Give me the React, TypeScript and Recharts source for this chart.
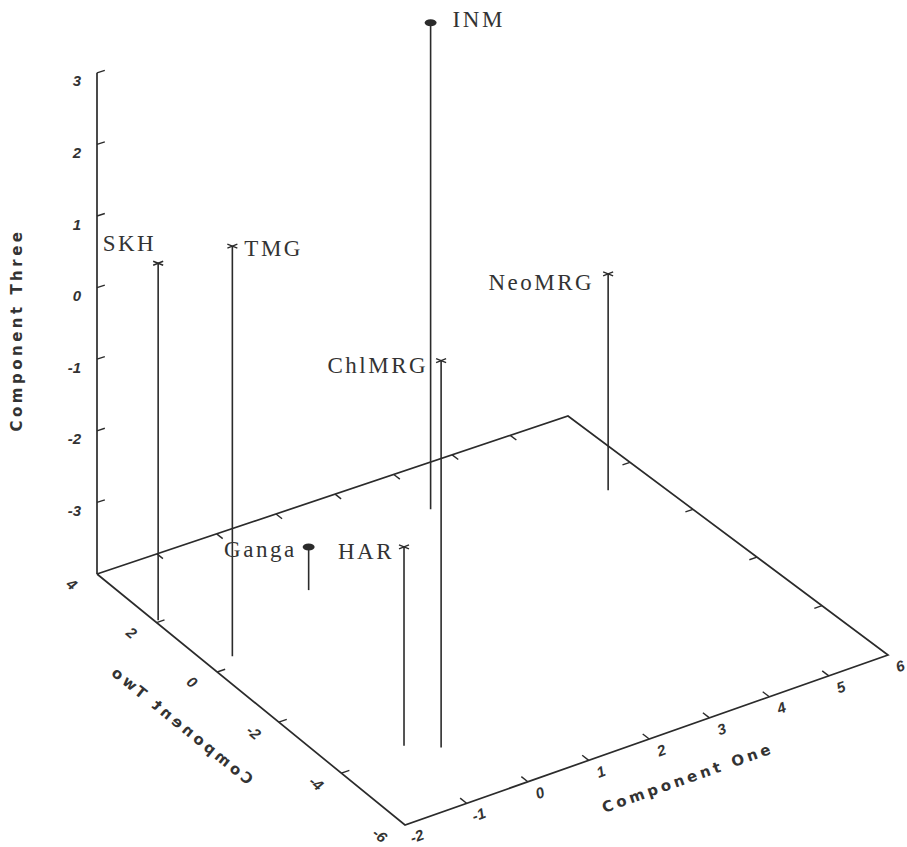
import React from "react";
import { ComposedChart, XAxis, YAxis, Scatter, ReferenceLine } from "recharts";

// principal component scores per sample
const names = ["INM", "SKH", "TMG", "NeoMRG", "ChlMRG", "Ganga", "HAR"];
const componentOne = [2.9, -1.95, -1.6, 5.3, -0.5, 0.25, -0.9];
const componentTwo = [2.6, 2.05, 0.3, 1.4, -4.25, 1.45, -3.85];
const componentThree = [2.85, 0.95, 1.65, -0.95, 1.25, -3.4, -1.3];

// axis ticks
const oneTicks = [-2, -1, 0, 1, 2, 3, 4, 5, 6];
const twoTicks = [4, 2, 0, -2, -4, -6];
const threeTicks = [-4, -3, -2, -1, 0, 1, 2, 3];

const oneRange = [-2, 6];
const twoRange = [-6, 4];
const threeRange = [-4, 3];

const W = 907;
const H = 847;
const INK = "#2b2b2b";

// floor corners in view space: (one min, two max), (one max, two max), (one max, two min), (one min, two min)
const floorQuad = [
  [97, 574],
  [568, 416],
  [888, 655],
  [405, 825],
];
const zUnit = 71.6;

// square -> quad perspective mapping for the floor plane
function squareToQuad(q: number[][]) {
  const [[x0, y0], [x1, y1], [x2, y2], [x3, y3]] = q;
  const dx1 = x1 - x2, dx2 = x3 - x2, dx3 = x0 - x1 + x2 - x3;
  const dy1 = y1 - y2, dy2 = y3 - y2, dy3 = y0 - y1 + y2 - y3;
  const den = dx1 * dy2 - dx2 * dy1;
  const g = (dx3 * dy2 - dx2 * dy3) / den;
  const h = (dx1 * dy3 - dx3 * dy1) / den;
  return {
    a: x1 - x0 + g * x1, b: x3 - x0 + h * x3, c: x0,
    d: y1 - y0 + g * y1, e: y3 - y0 + h * y3, f: y0, g, h,
  };
}
const M = squareToQuad(floorQuad);

function project(one: number, two: number, three: number) {
  const s = (one - oneRange[0]) / (oneRange[1] - oneRange[0]);
  const t = (twoRange[1] - two) / (twoRange[1] - twoRange[0]);
  const w = M.g * s + M.h * t + 1;
  const px = (M.a * s + M.b * t + M.c) / w;
  const py = (M.d * s + M.e * t + M.f) / w - ((three - threeRange[0]) * zUnit) / w;
  return { px, py };
}

const seg = (a: { px: number; py: number }, b: { px: number; py: number }) => [
  { x: a.px, y: a.py },
  { x: b.px, y: b.py },
];

const [oMin, oMax] = oneRange;
const [tMin, tMax] = twoRange;
const floorZ = threeRange[0];

const floorPath = [
  project(oMin, tMax, floorZ),
  project(oMax, tMax, floorZ),
  project(oMax, tMin, floorZ),
  project(oMin, tMin, floorZ),
  project(oMin, tMax, floorZ),
];

const points = names.map((name, i) => ({
  name,
  ...project(componentOne[i], componentTwo[i], componentThree[i]),
  base: project(componentOne[i], componentTwo[i], floorZ),
}));

// tick segments on the box
const tickSegs: { x: number; y: number }[][] = [];
threeTicks.filter((z) => z > floorZ).forEach((z) =>
  tickSegs.push(seg(project(oMin, tMax, z), project(oMin + 0.13, tMax, z)))
);
oneTicks.filter((v) => v > oMin && v < oMax).forEach((v) => {
  tickSegs.push(seg(project(v, tMin, floorZ), project(v, tMin + 0.2, floorZ)));
  tickSegs.push(seg(project(v, tMax, floorZ), project(v, tMax - 0.2, floorZ)));
});
twoTicks.filter((v) => v > tMin && v < tMax).forEach((v) => {
  tickSegs.push(seg(project(oMin, v, floorZ), project(oMin + 0.13, v, floorZ)));
  tickSegs.push(seg(project(oMax, v, floorZ), project(oMax - 0.13, v, floorZ)));
});

const tickLabels = [
  ...threeTicks.filter((z) => z > floorZ).map((z) => ({
    ...project(oMin, tMax, z), text: String(z), dx: -16, dy: 8, rot: 0, anchor: "end",
  })),
  ...oneTicks.map((v) => ({
    ...project(v, tMin, floorZ), text: String(v), dx: 12, dy: 11, rot: -20, anchor: "middle",
  })),
  ...twoTicks.map((v) => ({
    ...project(oMin, v, floorZ), text: String(v), dx: -25, dy: 10, rot: 39, anchor: "middle",
  })),
];

const labelPlacement: Record<string, { dx: number; dy: number; anchor: string }> = {
  INM: { dx: 22, dy: 4, anchor: "start" },
  SKH: { dx: -2, dy: -12, anchor: "end" },
  TMG: { dx: 12, dy: 10, anchor: "start" },
  NeoMRG: { dx: -14, dy: 16, anchor: "end" },
  ChlMRG: { dx: -13, dy: 12, anchor: "end" },
  Ganga: { dx: -12, dy: 10, anchor: "end" },
  HAR: { dx: -10, dy: 12, anchor: "end" },
};
const dotMarked = new Set(["INM", "Ganga"]);

const PointMark = (props: any) => {
  const { cx, cy, payload } = props;
  const lp = labelPlacement[payload.name];
  return (
    <g>
      {dotMarked.has(payload.name) ? (
        <ellipse cx={cx} cy={cy} rx={6} ry={3.5} fill={INK} />
      ) : (
        <g stroke={INK} strokeWidth={1.4}>
          <line x1={cx - 5} y1={cy - 2} x2={cx + 5} y2={cy + 2} />
          <line x1={cx - 5} y1={cy + 2} x2={cx + 5} y2={cy - 2} />
        </g>
      )}
      <text
        x={cx + lp.dx}
        y={cy + lp.dy}
        textAnchor={lp.anchor as any}
        fontFamily="'Liberation Serif', serif"
        fontSize={23}
        letterSpacing={2.5}
        fill="#333"
      >
        {payload.name}
      </text>
    </g>
  );
};

const TickLabel = (props: any) => {
  const { cx, cy, payload } = props;
  const x = cx + payload.dx;
  const y = cy + payload.dy;
  return (
    <text
      x={x}
      y={y}
      textAnchor={payload.anchor}
      dominantBaseline="central"
      transform={payload.rot ? `rotate(${payload.rot} ${x} ${y})` : undefined}
      fontFamily="'Liberation Sans', sans-serif"
      fontWeight="bold"
      fontStyle="italic"
      fontSize={15}
      fill="#333"
    >
      {payload.text}
    </text>
  );
};

const noMark = () => <g />;

export default function App() {
  const axisTop = project(oMin, tMax, threeRange[1]);
  const axisBottom = project(oMin, tMax, floorZ);
  const titleFont = {
    fontFamily: "'DejaVu Sans', sans-serif",
    fontWeight: "bold" as const,
    fontSize: 15,
    letterSpacing: 3.5,
    fill: "#333",
  };
  return (
    <div style={{ position: "absolute", left: 0, top: 0, width: W, height: H, background: "#fff" }}>
      <ComposedChart width={W} height={H} margin={{ top: 0, right: 0, bottom: 0, left: 0 }}>
        <XAxis type="number" dataKey="px" domain={[0, W]} hide />
        <YAxis type="number" dataKey="py" domain={[0, H]} reversed hide />
        <Scatter
          data={floorPath}
          line={{ stroke: INK, strokeWidth: 1.7 }}
          shape={noMark}
          isAnimationActive={false}
        />
        <ReferenceLine segment={seg(axisBottom, axisTop)} stroke={INK} strokeWidth={1.7} ifOverflow="visible" />
        {tickSegs.map((s, i) => (
          <ReferenceLine key={`t${i}`} segment={s} stroke={INK} strokeWidth={1.4} ifOverflow="visible" />
        ))}
        {points.map((p) => (
          <ReferenceLine
            key={`s${p.name}`}
            segment={seg(p.base, p)}
            stroke={INK}
            strokeWidth={1.6}
            ifOverflow="visible"
          />
        ))}
        <Scatter data={points} shape={PointMark} isAnimationActive={false} />
        <Scatter data={tickLabels} shape={TickLabel} isAnimationActive={false} />
      </ComposedChart>
      <svg width={W} height={H} style={{ position: "absolute", left: 0, top: 0, pointerEvents: "none" }}>
        <text x={17} y={330} textAnchor="middle" dominantBaseline="central" transform="rotate(-90 17 330)" {...titleFont}>
          Component Three
        </text>
        <text x={688} y={778} textAnchor="middle" dominantBaseline="central" transform="rotate(-19.5 688 778)" {...titleFont}>
          Component One
        </text>
        <text
          x={181}
          y={725}
          textAnchor="middle"
          dominantBaseline="central"
          transform="translate(181 725) rotate(39) scale(-1 1) translate(-181 -725)"
          {...titleFont}
        >
          Component Two
        </text>
      </svg>
    </div>
  );
}
